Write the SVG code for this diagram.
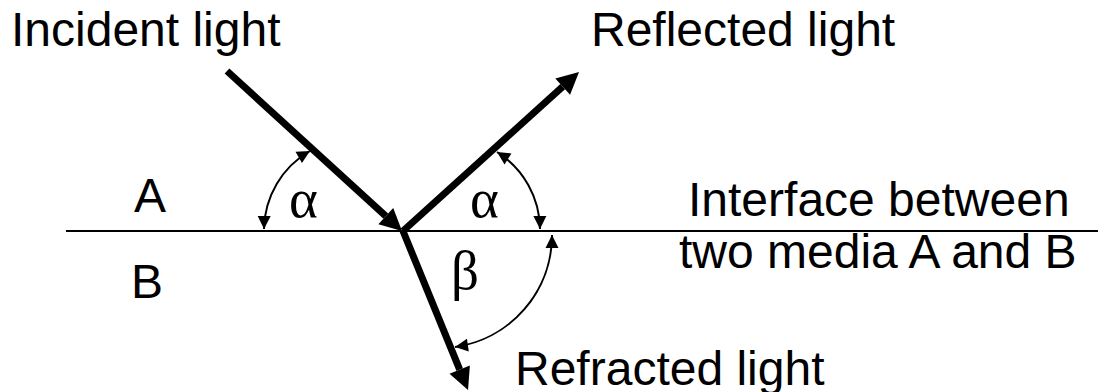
<svg xmlns="http://www.w3.org/2000/svg" width="1098" height="392" viewBox="0 0 1098 392">
  <style>
    .lbl { font-family: "Liberation Sans", Arial, sans-serif; font-size: 48px; fill: #000; }
    .greek { font-family: "Liberation Serif", "Times New Roman", serif; font-size: 55px; fill: #000; }
    .ray { stroke: #000; stroke-width: 7; fill: none; marker-end: url(#bigHead); }
    .arc { stroke: #000; stroke-width: 2; fill: none; marker-start: url(#smallHead); marker-end: url(#smallHead); }
    .iface { stroke: #000; stroke-width: 2.2; }
  </style>
  <defs>
    <marker id="bigHead" markerUnits="userSpaceOnUse" viewBox="0 -12 23 24" markerWidth="23" markerHeight="24" refX="0" refY="0" orient="auto" overflow="visible">
      <path d="M0,-11 L22,0 L0,11 z" fill="#000"/>
    </marker>
    <marker id="smallHead" markerUnits="userSpaceOnUse" viewBox="0 -7 14 14" markerWidth="14" markerHeight="14" refX="13" refY="0" orient="auto-start-reverse" overflow="visible">
      <path d="M0,-6.5 L13,0 L0,6.5 z" fill="#000"/>
    </marker>
  </defs>

  <g id="interface">
    <line class="iface" x1="66" y1="231" x2="1098" y2="231"/>
  </g>

  <g id="connectors">
    <line id="incident-ray" class="ray" x1="227" y1="71" x2="385.8" y2="216.2"/>
    <line id="reflected-ray" class="ray" x1="403" y1="231" x2="562.7" y2="86.7"/>
    <line id="refracted-ray" class="ray" x1="403" y1="231" x2="459.7" y2="369.6"/>
    <path id="alpha-left-arc" class="arc" d="M 310 151 A 91.6 91.6 0 0 0 264 229"/>
    <path id="alpha-right-arc" class="arc" d="M 497 152 A 92.2 92.2 0 0 1 540 229"/>
    <path id="beta-arc" class="arc" d="M 552 235 A 113 113 0 0 1 455 347"/>
  </g>

  <g id="label-incident"><text class="lbl" x="11" y="46">Incident light</text></g>
  <g id="label-reflected"><text class="lbl" x="591" y="46">Reflected light</text></g>
  <g id="label-refracted"><text class="lbl" x="515" y="385">Refracted light</text></g>
  <g id="label-interface">
    <text class="lbl" x="688" y="216">Interface between</text>
    <text class="lbl" x="679" y="268">two media A and B</text>
  </g>
  <g id="label-A"><text class="lbl" x="134" y="212">A</text></g>
  <g id="label-B"><text class="lbl" x="131" y="298">B</text></g>
  <g id="label-alpha-left"><text class="greek" x="289" y="217">α</text></g>
  <g id="label-alpha-right"><text class="greek" x="470" y="217">α</text></g>
  <g id="label-beta"><text class="greek" x="451" y="289">β</text></g>
</svg>
